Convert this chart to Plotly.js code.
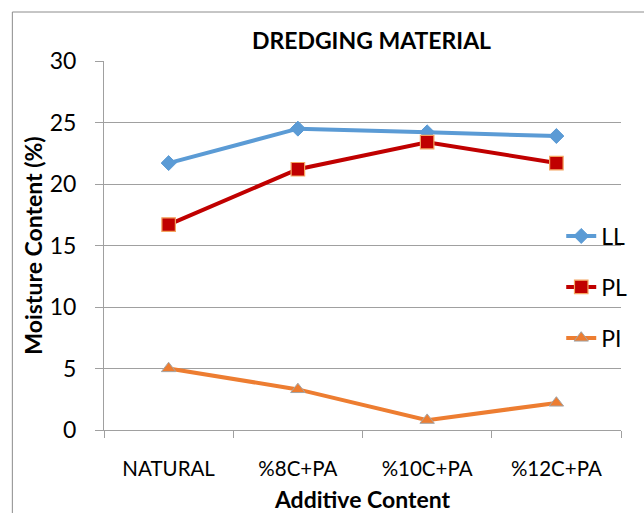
<!DOCTYPE html>
<html>
<head>
<meta charset="utf-8">
<script src="https://cdn.plot.ly/plotly-3.0.1.min.js"></script>
<style>
  html, body { margin: 0; padding: 0; background: #fff; overflow: hidden; }
  #chart { width: 644px; height: 513px; }
</style>
</head>
<body>
<div id="chart"></div>
<script>
const categories = ["NATURAL", "%8C+PA", "%10C+PA", "%12C+PA"];
const llValues = [21.7, 24.5, 24.2, 23.9];
const plValues = [16.7, 21.2, 23.4, 21.7];
const piValues = [5.0, 3.3, 0.8, 2.2];
const yTicks = [0, 5, 10, 15, 20, 25, 30];

const FONT = "Lato, 'Open Sans', sans-serif";

const traces = [
  {
    x: categories, y: llValues, name: "LL", type: "scatter", mode: "lines+markers",
    line: { color: "#5B9BD5", width: 4 },
    marker: { symbol: "diamond", size: 11.5, color: "#5B9BD5", line: { color: "#5B9BD5", width: 1 } },
    legend: "legend"
  },
  {
    x: categories, y: plValues, name: "PL", type: "scatter", mode: "lines+markers",
    line: { color: "#C00000", width: 4 },
    marker: { symbol: "square", size: 13.5, color: "#C00000", line: { color: "#F4A460", width: 1.2 } },
    legend: "legend2"
  },
  {
    x: categories, y: piValues, name: "PI", type: "scatter", mode: "lines+markers",
    line: { color: "#ED7D31", width: 4 },
    marker: { symbol: "triangle-up", size: 12.5, color: "#ED7D31", line: { color: "#A5A5A5", width: 1 } },
    legend: "legend3"
  }
];

const L = 104, R = 623, T = 61, B = 430;
const W = R - L, H = B - T;
const px = v => (v - L) / W;
const py = v => (B - v) / H;

const legendCommon = {
  xanchor: "left", yanchor: "middle",
  bgcolor: "rgba(0,0,0,0)",
  font: { family: FONT, size: 23, color: "#000" },
  itemwidth: 30
};

const layout = {
  width: 644, height: 513,
  margin: { l: L, r: 644 - R, t: T, b: 513 - B },
  paper_bgcolor: "#fff", plot_bgcolor: "#fff",
  showlegend: true,
  title: {
    text: "<b>DREDGING MATERIAL</b>",
    font: { family: FONT, size: 23, color: "#000" },
    xref: "container", x: 371.5 / 644, xanchor: "center",
    yref: "container", y: 1 - 41 / 513, yanchor: "middle"
  },
  xaxis: {
    type: "category",
    range: [-0.5, 3.5],
    tickson: "boundaries",
    ticks: "outside", ticklen: 7, tickcolor: "#A0A0A0", tickwidth: 1,
    showgrid: false, zeroline: false,
    showline: true, linecolor: "#A0A0A0", linewidth: 1,
    tickfont: { family: FONT, size: 20.5, color: "#000" },
    ticklabelstandoff: 20,
    title: { text: "<b>Additive Content</b>", font: { family: FONT, size: 23, color: "#000" }, standoff: 14 },
    fixedrange: true
  },
  yaxis: {
    range: [0, 30],
    tickvals: yTicks,
    ticks: "outside", ticklen: 8, tickcolor: "#A0A0A0", tickwidth: 1,
    showgrid: true, gridcolor: "#A0A0A0", gridwidth: 1,
    zeroline: false,
    showline: true, linecolor: "#A0A0A0", linewidth: 1,
    tickfont: { family: FONT, size: 23, color: "#000" },
    ticklabelstandoff: 14,
    title: { text: "<b>Moisture Content (%)</b>", font: { family: FONT, size: 23, color: "#000" }, standoff: 0 },
    fixedrange: true
  },
  legend: Object.assign({ x: px(563), y: py(236) }, legendCommon),
  legend2: Object.assign({ x: px(563), y: py(287) }, legendCommon),
  legend3: Object.assign({ x: px(563), y: py(338) }, legendCommon),
  shapes: [
    {
      type: "rect", xref: "paper", yref: "paper", layer: "below",
      x0: px(12), x1: px(700), y0: py(600), y1: py(12),
      line: { color: "#8C8C8C", width: 1 }, fillcolor: "rgba(0,0,0,0)"
    }
  ]
};

Plotly.newPlot("chart", traces, layout, { displayModeBar: false, staticPlot: true });
</script>
</body>
</html>
